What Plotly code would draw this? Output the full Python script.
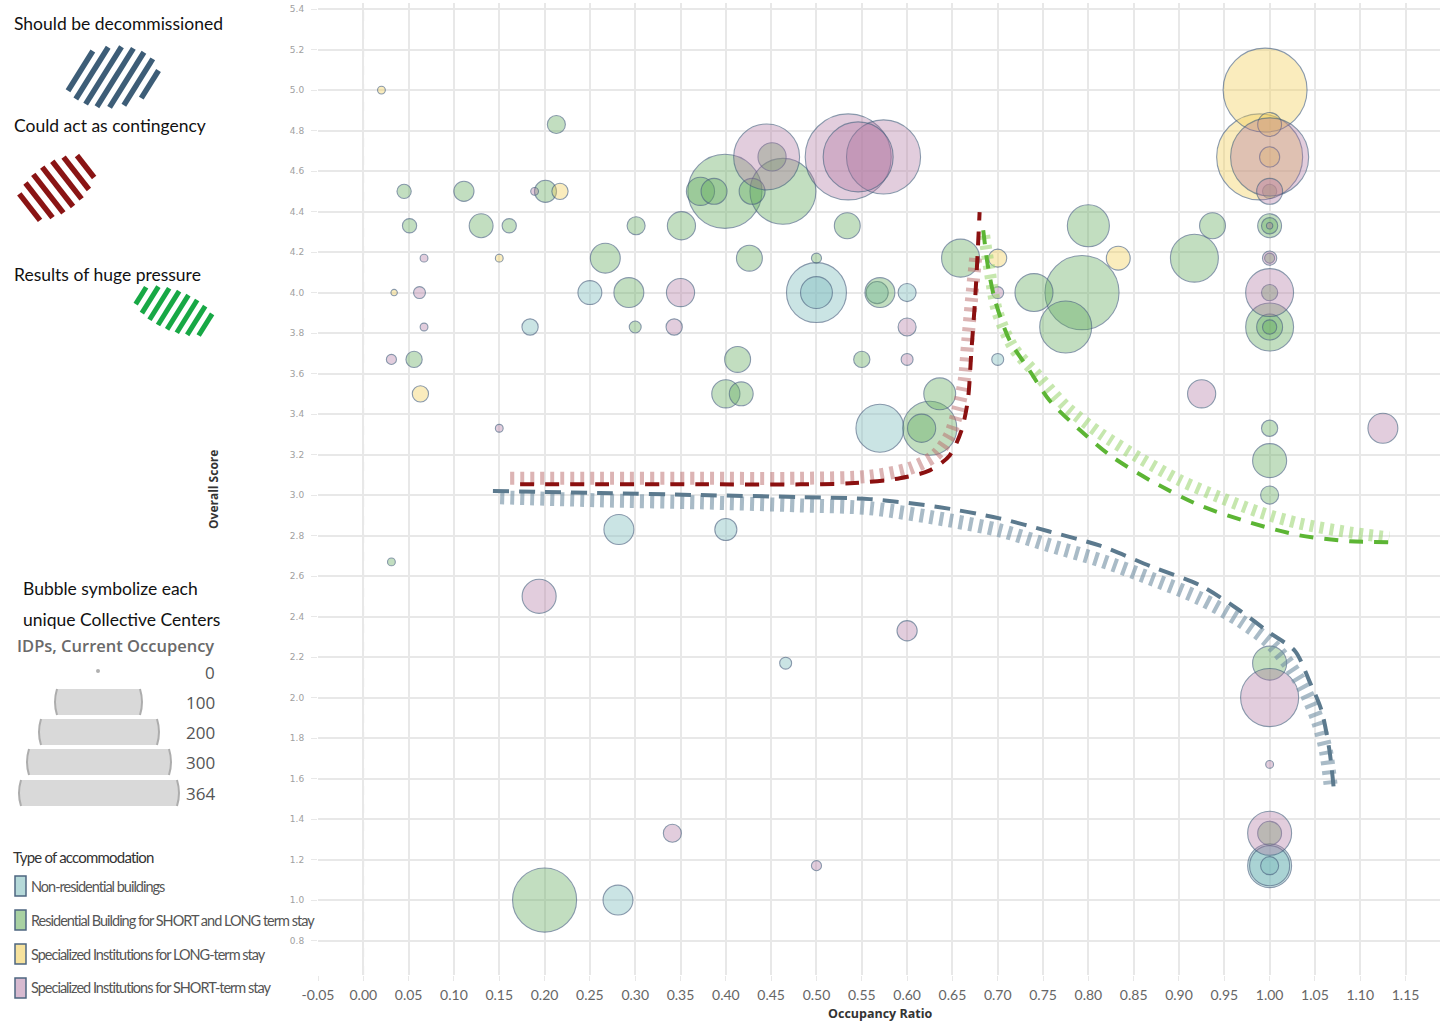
import math
import plotly.graph_objects as go

# ---------------- figure geometry helpers ----------------
W, H = 1442, 1022
ML, MR, MT, MB = 0, 2, 3, 47
PW = W - ML - MR
PH = H - MT - MB


def PX(px):
    return (px - ML) / PW


def PY(py):
    return 1 - (py - MT) / PH


# ---------------- data ----------------
categories = [
    "Non-residential buildings",
    "Residential Building for SHORT and LONG term stay",
    "Specialized Institutions for LONG-term stay",
    "Specialized Institutions for SHORT-term stay",
]

# Non-residential buildings
nonres_x = [0.25, 0.50, 0.50, 0.567, 0.60, 0.184, 0.70, 0.57, 0.282, 0.40, 0.466, 1.0, 1.0, 1.0, 0.281]
nonres_y = [4.0, 4.0, 4.0, 4.0, 4.0, 3.83, 3.67, 3.33, 2.83, 2.83, 2.17, 1.17, 1.17, 1.17, 1.0]
nonres_idp = [28, 177, 50, 24, 16, 13, 7, 113, 44, 24, 7, 95, 79, 16, 44]

# Residential Building for SHORT and LONG term stay
res_x = [0.213, 0.451, 0.045, 0.111, 0.201, 0.372, 0.387, 0.399, 0.429, 0.463, 1.0,
         0.051, 0.13, 0.161, 0.301, 0.351, 0.534, 0.80, 0.937, 1.0, 1.0,
         0.267, 0.426, 0.50, 0.659, 0.917, 1.0,
         0.293, 0.57, 0.74, 0.793, 1.0,
         0.30, 0.775, 1.0, 1.0, 1.0,
         0.056, 0.413, 0.55,
         0.40, 0.417, 0.636,
         0.625, 0.616, 1.0,
         1.0, 1.0, 0.031, 1.0, 1.0, 0.20]
res_y = [4.83, 4.67, 4.5, 4.5, 4.5, 4.5, 4.5, 4.5, 4.5, 4.5, 4.5,
         4.33, 4.33, 4.33, 4.33, 4.33, 4.33, 4.33, 4.33, 4.33, 4.33,
         4.17, 4.17, 4.17, 4.17, 4.17, 4.17,
         4.0, 4.0, 4.0, 4.0, 4.0,
         3.83, 3.83, 3.83, 3.83, 3.83,
         3.67, 3.67, 3.67,
         3.5, 3.5, 3.5,
         3.33, 3.33, 3.33,
         3.17, 3.0, 2.67, 2.17, 1.33, 1.0]
res_idp = [16, 39, 10, 20, 24, 39, 33, 270, 33, 214, 10,
           10, 28, 10, 16, 39, 33, 87, 33, 28, 13,
           44, 33, 5, 71, 113, 5,
           44, 44, 71, 270, 13,
           7, 133, 113, 33, 10,
           13, 33, 13,
           39, 28, 50,
           144, 39, 13,
           57, 16, 3, 57, 28, 202]

# Specialized Institutions for LONG-term stay
long_x = [0.02, 0.995, 1.0, 0.989, 1.0, 0.217, 0.15, 0.70, 0.833, 0.034, 0.063]
long_y = [5.0, 5.0, 4.83, 4.67, 4.67, 4.5, 4.17, 4.17, 4.17, 4.0, 3.5]
long_idp = [3, 347, 28, 364, 20, 13, 3, 16, 28, 2, 13]

# Specialized Institutions for SHORT-term stay
short_x = [0.445, 0.535, 0.546, 0.574, 1.0, 0.189, 1.0, 1.0, 0.067, 1.0,
           0.062, 0.35, 0.70, 1.0, 0.067, 0.343, 0.60, 0.031, 0.60, 0.925,
           0.15, 1.125, 0.194, 0.60, 1.0, 1.0, 0.341, 1.0, 0.50]
short_y = [4.67, 4.67, 4.67, 4.67, 4.67, 4.5, 4.5, 4.33, 4.17, 4.17,
           4.0, 4.0, 4.0, 4.0, 3.83, 3.83, 3.83, 3.67, 3.67, 3.5,
           3.33, 3.33, 2.5, 2.33, 2.0, 1.67, 1.33, 1.33, 1.17]
short_idp = [214, 364, 241, 270, 300, 3, 33, 2, 3, 10,
             7, 39, 7, 113, 3, 13, 16, 5, 7, 39,
             3, 44, 57, 20, 166, 3, 16, 95, 5]

series_x = [nonres_x, res_x, long_x, short_x]
series_y = [nonres_y, res_y, long_y, short_y]
series_idp = [nonres_idp, res_idp, long_idp, short_idp]

fill_colors = ["rgba(120,186,188,0.55)", "rgba(98,172,92,0.55)",
               "rgba(242,206,86,0.55)", "rgba(176,116,160,0.5)"]
swatch_colors = ["#b5d9d9", "#a8d1a2", "#f6e29d", "#d7bad0"]
outline_color = "rgba(70,95,125,0.9)"

# Annotation curves
blue_line_x = [0.143, 0.261, 0.372, 0.482, 0.559, 0.636, 0.702, 0.757, 0.813, 0.868, 0.923, 0.967, 1.0, 1.028, 1.044, 1.057, 1.066, 1.071]
blue_line_y = [3.02, 3.01, 3.0, 2.99, 2.98, 2.94, 2.885, 2.82, 2.75, 2.65, 2.555, 2.43, 2.32, 2.23, 2.08, 1.94, 1.74, 1.54]
blue_band_x = [0.151, 0.261, 0.372, 0.482, 0.559, 0.647, 0.702, 0.757, 0.813, 0.868, 0.923, 0.967, 1.0, 1.022, 1.039, 1.053, 1.062, 1.068]
blue_band_y = [2.989, 2.974, 2.964, 2.949, 2.935, 2.875, 2.826, 2.752, 2.678, 2.589, 2.49, 2.381, 2.273, 2.159, 2.035, 1.887, 1.739, 1.541]

red_line_x = [0.173, 0.261, 0.372, 0.482, 0.537, 0.592, 0.625, 0.647, 0.66, 0.667, 0.671, 0.675, 0.678, 0.68]
red_line_y = [3.053, 3.053, 3.053, 3.053, 3.058, 3.083, 3.122, 3.196, 3.32, 3.468, 3.715, 3.962, 4.209, 4.397]
red_band_x = [0.162, 0.261, 0.372, 0.482, 0.559, 0.603, 0.631, 0.647, 0.656, 0.663, 0.667, 0.671, 0.676]
red_band_y = [3.083, 3.083, 3.083, 3.083, 3.093, 3.132, 3.196, 3.295, 3.419, 3.567, 3.765, 3.962, 4.185]

green_line_x = [0.684, 0.689, 0.697, 0.713, 0.735, 0.757, 0.791, 0.824, 0.868, 0.923, 0.978, 1.033, 1.088, 1.132]
green_line_y = [4.308, 4.135, 3.962, 3.765, 3.616, 3.468, 3.32, 3.196, 3.073, 2.949, 2.865, 2.801, 2.772, 2.767]
green_band_x = [0.685, 0.691, 0.699, 0.717, 0.746, 0.776, 0.813, 0.857, 0.901, 0.945, 0.989, 1.033, 1.088, 1.132]
green_band_y = [4.283, 4.11, 3.913, 3.73, 3.582, 3.434, 3.305, 3.182, 3.073, 2.989, 2.915, 2.86, 2.816, 2.791]

x_ticks = [round(-0.05 + 0.05 * i, 2) for i in range(25)]
y_ticks = [round(0.8 + 0.2 * i, 1) for i in range(24)]

size_legend_values = [0, 100, 200, 300, 364]
MAX_IDP = 364
MAX_DIAM = 86

# ---------------- figure ----------------
fig = go.Figure()

for name, xs, ys, vs, fc in zip(categories, series_x, series_y, series_idp, fill_colors):
    order = sorted(range(len(vs)), key=lambda i: -vs[i])
    fig.add_trace(go.Scatter(
        x=[xs[i] for i in order], y=[ys[i] for i in order],
        mode="markers", name=name, showlegend=False, hoverinfo="skip",
        marker=dict(
            size=[max(MAX_DIAM * math.sqrt(vs[i] / MAX_IDP), 3) for i in order],
            sizemode="diameter", color=fc,
            line=dict(color=outline_color, width=1.1),
        ),
    ))

curve_specs = [
    (blue_band_x, blue_band_y, "rgba(112,142,162,0.6)", 14, "4px,6px"),
    (red_band_x, red_band_y, "rgba(185,105,105,0.5)", 13, "4px,6px"),
    (green_band_x, green_band_y, "rgba(160,215,120,0.6)", 12, "4px,6px"),
    (blue_line_x, blue_line_y, "#5c7a8e", 4, "16px,10px"),
    (red_line_x, red_line_y, "#8b1010", 4, "14px,11px"),
    (green_line_x, green_line_y, "#5cb534", 4, "14px,11px"),
]
for cx, cy, col, wd, dash in curve_specs:
    fig.add_trace(go.Scatter(
        x=cx, y=cy, mode="lines", showlegend=False, hoverinfo="skip",
        line=dict(color=col, width=wd, dash=dash, shape="spline", smoothing=0.8),
    ))

shapes = []
annotations = []

# zero reference line
shapes.append(dict(type="line", xref="x", yref="paper", x0=0, x1=0, y0=0, y1=1,
                   line=dict(color="#c4c4c4", width=1.5, dash="dash"), layer="below"))


# ---------- hatched legend glyphs ----------
def hatch_blob(cx, cy, a, b, rot_deg, stripe_deg, spacing, color, width):
    out = []
    phi = math.radians(rot_deg)
    th = math.radians(stripe_deg)
    gdx, gdy = math.cos(th), -math.sin(th)
    cp, sp = math.cos(phi), math.sin(phi)

    def to_local(vx, vy):
        vyv = -vy
        return vx * cp + vyv * sp, -vx * sp + vyv * cp

    def to_pixel(lx, ly):
        vx = lx * cp - ly * sp
        vyv = lx * sp + ly * cp
        return vx, -vyv

    dx, dy = to_local(gdx, gdy)
    nx, ny = -dy, dx
    s = -max(a, b)
    while s <= max(a, b):
        ux, uy = s * nx, s * ny
        A = (dx / a) ** 2 + (dy / b) ** 2
        B = 2 * (ux * dx / a ** 2 + uy * dy / b ** 2)
        C = (ux / a) ** 2 + (uy / b) ** 2 - 1
        D = B * B - 4 * A * C
        if D > 0:
            t1 = (-B - math.sqrt(D)) / (2 * A)
            t2 = (-B + math.sqrt(D)) / (2 * A)
            p1 = to_pixel(ux + t1 * dx, uy + t1 * dy)
            p2 = to_pixel(ux + t2 * dx, uy + t2 * dy)
            out.append(dict(type="line", xref="paper", yref="paper",
                            x0=PX(cx + p1[0]), y0=PY(cy + p1[1]),
                            x1=PX(cx + p2[0]), y1=PY(cy + p2[1]),
                            line=dict(color=color, width=width)))
        s += spacing
    return out


shapes += hatch_blob(112, 77, 47, 30, 8, 58, 11, "#3d5d77", 5.5)
shapes += hatch_blob(56, 188, 44, 25, 35, -52, 11.5, "#8a1414", 5.5)
shapes += hatch_blob(175, 311, 43, 20, -22, 58, 10, "#17a845", 5)

text_font = "Lato, 'Open Sans', sans-serif"
for txt, ty in [("Should be decommissioned", 23), ("Could act as contingency", 125),
                ("Results of huge pressure", 274)]:
    annotations.append(dict(text=txt, x=PX(12), y=PY(ty), xref="paper", yref="paper",
                            xanchor="left", yanchor="middle", showarrow=False,
                            font=dict(family=text_font, size=17.5, color="#111")))
for txt, ty in [("Bubble symbolize each", 588), ("unique Collective Centers", 619)]:
    annotations.append(dict(text=txt, x=PX(21), y=PY(ty), xref="paper", yref="paper",
                            xanchor="left", yanchor="middle", showarrow=False,
                            font=dict(family=text_font, size=17.5, color="#111")))

annotations.append(dict(text="IDPs, Current Occupency", x=PX(15), y=PY(645), xref="paper", yref="paper",
                        xanchor="left", yanchor="middle", showarrow=False,
                        font=dict(family="'Open Sans', sans-serif", size=16.5, color="#6a6a6a",
                                  weight=600)))

# size legend
slice_rows = [(672, None), (702, (57, 140)), (732, (41, 157)), (762, (29, 169)), (793, (21, 177))]
for val, (cy, ext) in zip(size_legend_values, slice_rows):
    annotations.append(dict(text=str(val), x=PX(217), y=PY(cy), xref="paper", yref="paper",
                            xanchor="right", yanchor="middle", showarrow=False,
                            font=dict(family="'Open Sans', sans-serif", size=17, color="#555")))
    if ext is None:
        shapes.append(dict(type="circle", xref="paper", yref="paper",
                           x0=PX(96), x1=PX(100), y0=PY(673), y1=PY(669),
                           fillcolor="#b0b0b0", line=dict(width=0)))
        continue
    x0, x1 = ext
    y0, y1 = cy - 13, cy + 13
    bulge = 2
    path = (f"M {PX(x0)},{PY(y0)} L {PX(x1)},{PY(y0)} "
            f"Q {PX(x1 + 2 * bulge)},{PY(cy)} {PX(x1)},{PY(y1)} "
            f"L {PX(x0)},{PY(y1)} Q {PX(x0 - 2 * bulge)},{PY(cy)} {PX(x0)},{PY(y0)} Z")
    shapes.append(dict(type="path", xref="paper", yref="paper", path=path,
                       fillcolor="#d9d9d9", line=dict(width=0)))
    for xe, sgn in [(x1, 1), (x0, -1)]:
        arc = f"M {PX(xe)},{PY(y0)} Q {PX(xe + sgn * 2 * bulge)},{PY(cy)} {PX(xe)},{PY(y1)}"
        shapes.append(dict(type="path", xref="paper", yref="paper", path=arc,
                           line=dict(color="#adadad", width=2)))

# type of accommodation legend (condensed look via negative letter spacing)
legend_font = "Lato, 'Liberation Sans', sans-serif"
annotations.append(dict(text="<span style='letter-spacing:-0.8px'>Type of accommodation</span>",
                        x=PX(11), y=PY(857), xref="paper", yref="paper",
                        xanchor="left", yanchor="middle", showarrow=False,
                        font=dict(family=legend_font, size=15, color="#333")))
for i, (name, sc) in enumerate(zip(categories, swatch_colors)):
    cy = 886 + 34 * i
    shapes.append(dict(type="rect", xref="paper", yref="paper",
                       x0=PX(15), x1=PX(26), y0=PY(cy - 10), y1=PY(cy + 10),
                       fillcolor=sc, line=dict(color="#4d6680", width=1.5)))
    annotations.append(dict(text=f"<span style='letter-spacing:-1px'>{name}</span>",
                            x=PX(29), y=PY(cy), xref="paper", yref="paper",
                            xanchor="left", yanchor="middle", showarrow=False,
                            font=dict(family=legend_font, size=14.5, color="#555")))

# axis titles
annotations.append(dict(text="<b>Overall Score</b>", x=PX(214), y=PY(490), xref="paper", yref="paper",
                        textangle=-90, xanchor="center", yanchor="middle", showarrow=False,
                        font=dict(family="'Open Sans', sans-serif", size=12, color="#333")))
annotations.append(dict(text="<b>Occupancy Ratio</b>", x=PX(880), y=PY(1013), xref="paper", yref="paper",
                        xanchor="center", yanchor="middle", showarrow=False,
                        font=dict(family="'Open Sans', sans-serif", size=12.5, color="#333")))

fig.update_layout(
    width=W, height=H,
    margin=dict(l=ML, r=MR, t=MT, b=MB, pad=0, autoexpand=False),
    paper_bgcolor="white", plot_bgcolor="white",
    showlegend=False, hovermode=False,
    shapes=shapes, annotations=annotations,
    xaxis=dict(domain=[PX(318), 1.0], range=[-0.05, 1.188], automargin=False,
               tickvals=x_ticks, ticktext=[f"{v:.2f}" for v in x_ticks],
               showgrid=True, gridcolor="#e8e8e8", gridwidth=1.5,
               zeroline=False, showline=False,
               ticks="outside", ticklen=5, tickcolor="#e8e8e8",
               tickfont=dict(family="Lato, sans-serif", size=14, color="#666"),
               ticklabelstandoff=2),
    yaxis=dict(domain=[0, 1], range=[0.63, 5.43], automargin=False,
               tickvals=y_ticks, ticktext=[f"{v:.1f}" for v in y_ticks],
               showgrid=True, gridcolor="#e8e8e8", gridwidth=1.5,
               zeroline=False, showline=False,
               ticks="outside", ticklen=6, tickcolor="#e8e8e8",
               tickfont=dict(family="'DejaVu Sans', sans-serif", size=9, color="#a0a0a0"),
               ticklabelstandoff=5),
)

fig.write_html("out.html", config={"displayModeBar": False},
               post_script="document.body.style.margin='0';document.body.style.overflow='hidden';")
